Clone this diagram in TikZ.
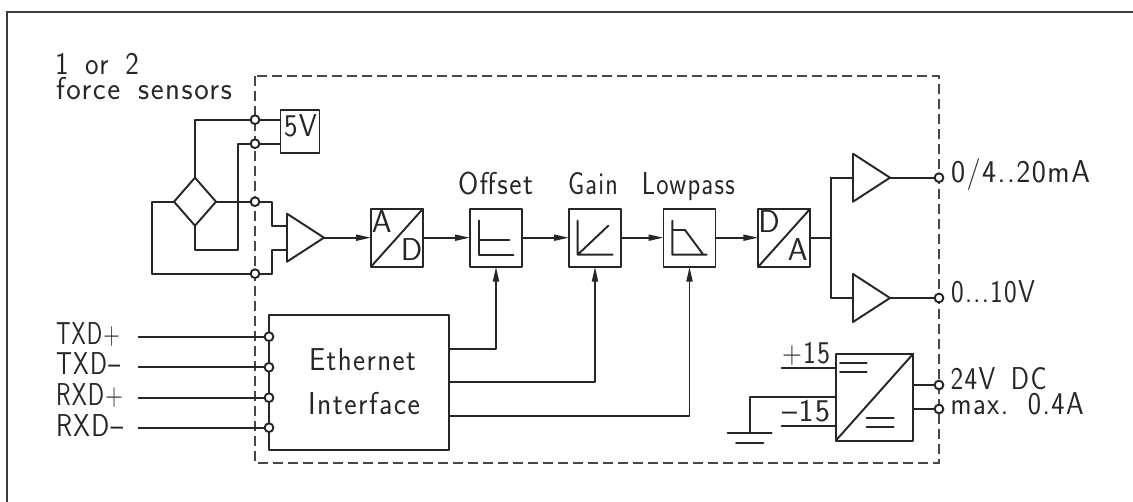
\documentclass[tikz,border=0pt]{standalone}
\usepackage{fontspec}
\usepackage{graphicx}
\newfontfamily\cadfont[LetterSpace=5,WordSpace=1.6]{Latin Modern Sans}
\usetikzlibrary{arrows.meta,shapes.geometric}
\definecolor{ink}{HTML}{262626}
\newcommand{\fitw}[2]{\setbox0=\hbox{#2}\pgfmathsetmacro{\fitr}{#1*0.5691/\wd0}\scalebox{\fitr}[1]{\box0}}
\tikzset{
  sig/.style={line width=1.1pt,draw=ink,line cap=round,line join=round},
  sigarrow/.style={sig,-{Triangle[length=3mm,width=1.2mm]}},
  block/.style={sig,rectangle,inner sep=0pt,outer sep=0pt,minimum width=1.04cm,minimum height=1.16cm},
  amp/.style={sig,isosceles triangle,isosceles triangle stretches,shape border rotate=0,inner sep=0pt,outer sep=0pt,minimum width=0.96cm,minimum height=0.74cm,anchor=apex},
  term/.style={sig,circle,fill=white,inner sep=0pt,outer sep=0pt,minimum size=0.175cm},
  lbl/.style={inner sep=0pt,outer sep=0pt,text=ink,font=\cadfont\fontsize{18}{18}\selectfont,anchor=base west},
  lblc/.style={lbl,anchor=base}
}
\begin{document}
\begin{tikzpicture}[x=0.02cm,y=-0.02cm]
	\useasboundingbox (0,0) rectangle (1133,502);
	\draw [line width=1.1pt,draw=ink!90] (1133,11.7) -- (7,11.7) -- (7,502);
	\draw [line width=1pt,draw=ink!85,dash pattern=on 0.21cm off 0.09cm] (255,76) rectangle (939,463);

	\node [block,draw,minimum width=0.78cm,minimum height=0.86cm] (fivev) at (300,131.7) {};
	\node [sig,draw,diamond,inner sep=0pt,outer sep=0pt,aspect=0.875,minimum width=0.84cm,minimum height=0.96cm] (bridge) at (195,201.7) {};
	\node [amp,draw] (ampin) at (324,237.7) {};
	\node [block,draw] (adc) at (397,237.7) {};
	\node [block,draw] (offset) at (496,237.7) {};
	\node [block,draw] (gain) at (595,237.7) {};
	\node [block,draw] (lowpass) at (689.5,237.7) {};
	\node [block,draw] (dac) at (784.3,237.7) {};
	\node [amp,draw] (ampcur) at (890,177.7) {};
	\node [amp,draw] (ampvolt) at (890,298) {};
	\node [block,draw,minimum width=3.606cm,minimum height=2.7cm] (ether) at (359.15,382.5) {};
	\node [block,draw,minimum width=1.552cm,minimum height=1.74cm] (dcdc) at (874.5,397.2) {};

	\node [term] (t1) at (255,119.7) {};
	\node [term] (t2) at (255,143.7) {};
	\node [term] (t3) at (255,201.7) {};
	\node [term] (t4) at (255,273.7) {};
	\node [term] (tcur) at (939,177.7) {};
	\node [term] (tvolt) at (939,298) {};
	\node [term] (tpos) at (939,385) {};
	\node [term] (tneg) at (939,409) {};
	\node [term] (txp) at (269,336.7) {};
	\node [term] (txm) at (269,367.3) {};
	\node [term] (rxp) at (269,397.7) {};
	\node [term] (rxm) at (269,427.7) {};

	\coordinate (loopa) at (238,249.7);
	\coordinate (loopb) at (152,273.7);
	\coordinate (kinka) at (272.3,225.7);
	\coordinate (kinkb) at (272.3,249.7);
	\coordinate (inpa) at (286.7,225.7);
	\coordinate (inpb) at (286.7,249.7);
	\coordinate (bus) at (831.3,237.7);
	\coordinate (etha) at (449.3,348.7);
	\coordinate (ethb) at (449.3,382.3);
	\coordinate (ethc) at (449.3,416);
	\coordinate (txpend) at (138.7,336.7);
	\coordinate (txmend) at (138.7,367.3);
	\coordinate (rxpend) at (138.7,397.7);
	\coordinate (rxmend) at (138.7,427.7);
	\coordinate (plusend) at (781.7,368);
	\coordinate (minusend) at (781.7,426);
	\coordinate (gndin) at (835.7,397);
	\coordinate (gndtop) at (749.7,433);
	\coordinate (gndl) at (727.7,433);
	\coordinate (gndr) at (771.7,433);
	\coordinate (gndla) at (736,442.7);
	\coordinate (gndra) at (763.3,442.7);

	\draw [sig] (bridge.north) |- (t1);
	\draw [sig] (t1) -- (t1 -| fivev.west);
	\draw [sig] (t2) -- (t2 -| fivev.west);
	\draw [sig] (t2) -| (loopa) -| (bridge.south);
	\draw [sig] (bridge.east) -- (t3);
	\draw [sig] (t3) -| (kinka) -- (inpa);
	\draw [sig] (bridge.west) -| (loopb) -- (t4);
	\draw [sig] (t4) -| (kinkb) -- (inpb);

	\draw [sigarrow] (ampin.apex) -- (adc.west);
	\draw [sigarrow] (adc.east) -- (offset.west);
	\draw [sigarrow] (offset.east) -- (gain.west);
	\draw [sigarrow] (gain.east) -- (lowpass.west);
	\draw [sigarrow] (lowpass.east) -- (dac.west);
	\draw [sig] (dac.east) -- (bus);
	\draw [sig] (bus |- ampcur.apex) -- (bus |- ampvolt.apex);
	\draw [sig] (bus |- ampcur.apex) -- (ampcur.lower side);
	\draw [sig] (bus |- ampvolt.apex) -- (ampvolt.lower side);
	\draw [sig] (ampcur.apex) -- (tcur);
	\draw [sig] (ampvolt.apex) -- (tvolt);

	\draw [sigarrow] (etha) -| (offset.south);
	\draw [sigarrow] (ethb) -| (gain.south);
	\draw [sigarrow] (ethc) -| (lowpass.south);

	\draw [sig] (txpend) -- (txp);
	\draw [sig] (txmend) -- (txm);
	\draw [sig] (rxpend) -- (rxp);
	\draw [sig] (rxmend) -- (rxm);

	\draw [sig] (plusend) -- (plusend -| dcdc.west);
	\draw [sig] (minusend) -- (minusend -| dcdc.west);
	\draw [sig] (gndin) -| (gndtop);
	\draw [sig] (gndl) -- (gndr);
	\draw [sig] (gndla) -- (gndra);
	\draw [sig] (tpos) -- (tpos -| dcdc.east);
	\draw [sig] (tneg) -- (tneg -| dcdc.east);

	\draw [sig] (adc.south west) -- (adc.north east);
	\draw [sig] (dac.south west) -- (dac.north east);
	\draw [sig] (dcdc.south west) -- (dcdc.north east);
	\draw [sig] (840,362.7) -- (866.7,362.7) (840,372.3) -- (866.7,372.3);
	\draw [sig] (866.7,417.7) -- (893.7,417.7) (866.7,427.3) -- (893.7,427.3);
	\draw [sig] (478.7,220.7) -- (478.7,254.7) -- (513.3,254.7) (478.7,240) -- (509.3,240);
	\draw [sig] (577.7,220.7) -- (577.7,254.7) -- (612.7,254.7) (577.7,254.7) -- (608.3,225.7);
	\draw [sig] (672.3,220.7) -- (672.3,254.7) -- (706.7,254.7) (672.3,230) -- (685,230) -- (703.3,254.7);

	\node [lbl] (lbsensa) at (55,75) {\fitw{84}{1 or 2}};
	\node [lbl] (lbsensb) at (56,100) {\fitw{176}{force sensors}};
	\node [lblc] (lbfive) at (300.5,137) {\fitw{33}{5V}};
	\node [lblc] (lbada) at (381.7,233) {A};
	\node [lblc] (lbadd) at (411.7,261) {D};
	\node [lblc] (lbdad) at (769,233) {D};
	\node [lblc] (lbdaa) at (797.7,260.7) {A};
	\node [lblc] (lboffset) at (495.5,194.3) {\fitw{75}{Offset}};
	\node [lblc] (lbgain) at (593,194.3) {\fitw{50}{Gain}};
	\node [lblc] (lblow) at (688.3,194.3) {\fitw{93}{Lowpass}};
	\node [lbl] (lbcur) at (951,182.3) {\fitw{139}{0/4..20mA}};
	\node [lbl] (lbvolt) at (951,303) {\fitw{84}{0...10V}};
	\node [lbl] (lbtxp) at (56,345) {\fitw{64}{TXD+}};
	\node [lbl] (lbtxm) at (56,375) {\fitw{64}{TXD–}};
	\node [lbl] (lbrxp) at (56,406) {\fitw{67}{RXD+}};
	\node [lbl] (lbrxm) at (56,436.7) {\fitw{67}{RXD–}};
	\node [lblc] (lbeth) at (362.5,370.3) {\fitw{107}{Ethernet}};
	\node [lblc] (lbint) at (364,414.3) {\fitw{112}{Interface}};
	\node [lbl] (lbplus) at (782,363.3) {\fitw{48}{+15}};
	\node [lbl] (lbminus) at (782,421.7) {\fitw{48}{–15}};
	\node [lbl] (lbdca) at (950.7,390) {\fitw{96}{24V DC}};
	\node [lbl] (lbdcb) at (950.7,415) {\fitw{133}{max. 0.4A}};
\end{tikzpicture}
\end{document}
